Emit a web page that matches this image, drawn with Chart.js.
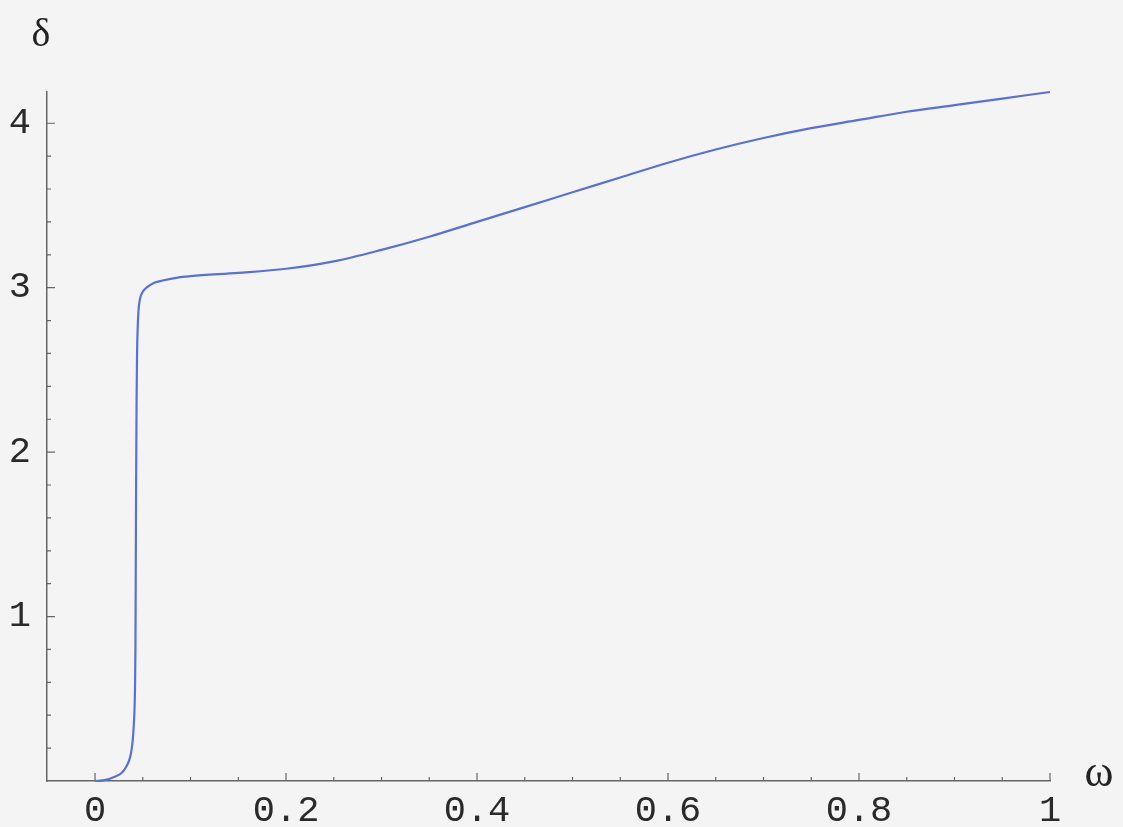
<!DOCTYPE html>
<html>
<head>
<meta charset="utf-8">
<title>delta vs omega</title>
<script src="https://cdn.jsdelivr.net/npm/chart.js@4.4.1/dist/chart.umd.min.js"></script>
<style>
  html, body { margin: 0; padding: 0; background: #f4f4f4; }
  #wrap { width: 1123px; height: 827px; position: relative; }
</style>
</head>
<body>
<div id="wrap"><canvas id="plot" width="1123" height="827"></canvas></div>
<script>
const omegaValues = [
  0, 0.01, 0.02, 0.028, 0.033, 0.036, 0.038, 0.0395, 0.0405, 0.0413,
  0.0419, 0.0423, 0.0426, 0.043, 0.0435, 0.044, 0.0447, 0.0455, 0.047, 0.05,
  0.055, 0.062, 0.072, 0.085, 0.1, 0.15, 0.2, 0.25, 0.3, 0.35,
  0.4, 0.45, 0.5, 0.55, 0.6, 0.65, 0.7, 0.75, 0.8, 0.85,
  0.9, 0.95, 1.0,
];
const deltaValues = [
  0, 0.005, 0.025, 0.05, 0.09, 0.13, 0.18, 0.25, 0.33, 0.43,
  0.58, 0.8, 1.2, 1.8, 2.3, 2.6, 2.76, 2.86, 2.93, 2.975,
  3.005, 3.03, 3.045, 3.06, 3.07, 3.09, 3.115, 3.16, 3.23, 3.31,
  3.4, 3.49, 3.58, 3.67, 3.76, 3.84, 3.91, 3.97, 4.02, 4.07,
  4.11, 4.15, 4.19,
];
const xTickValues = [0, 0.2, 0.4, 0.6, 0.8, 1];
const xTickLabels = ["0", "0.2", "0.4", "0.6", "0.8", "1"];
const yTickValues = [1, 2, 3, 4];
const yTickLabels = ["1", "2", "3", "4"];

const AXIS_COLOR = "#666";
const LINE_COLOR = "#5a70d4";
const TICK_FONT = { family: "Liberation Mono", size: 37 };

function minorValues(from, to, step) {
  const out = [];
  for (let v = from; v <= to + 1e-9; v += step) out.push(Math.round(v * 1000) / 1000);
  return out;
}

// Mathematica-style ticks pointing into the plot, plus the axis names
const inwardTicks = {
  id: "inwardTicks",
  afterDraw(chart) {
    const { ctx, scales, chartArea } = chart;
    const x = scales.x;
    const y = scales.y;
    ctx.save();
    ctx.strokeStyle = AXIS_COLOR;
    ctx.lineWidth = 1.2;
    ctx.beginPath();
    minorValues(0, 1, 0.05).forEach(v => {
      const px = x.getPixelForValue(v);
      const len = xTickValues.includes(v) ? 8 : 4;
      ctx.moveTo(px, chartArea.bottom);
      ctx.lineTo(px, chartArea.bottom - len);
    });
    minorValues(0.2, 4.0, 0.2).forEach(v => {
      const py = y.getPixelForValue(v);
      const len = yTickValues.includes(v) ? 8 : 4;
      ctx.moveTo(chartArea.left, py);
      ctx.lineTo(chartArea.left + len, py);
    });
    ctx.stroke();

    ctx.fillStyle = "#222";
    ctx.textAlign = "center";
    ctx.textBaseline = "middle";
    ctx.font = "40px 'Liberation Serif'";
    ctx.fillText("δ", 41, 35);
    ctx.font = "44px 'Liberation Serif'";
    ctx.fillText("ω", 1099, 774);
    ctx.restore();
  },
};

new Chart(document.getElementById("plot"), {
  type: "scatter",
  data: {
    datasets: [{
      data: omegaValues.map((w, i) => ({ x: w, y: deltaValues[i] })),
      showLine: true,
      borderColor: LINE_COLOR,
      borderWidth: 2.2,
      pointRadius: 0,
      cubicInterpolationMode: "monotone",
      clip: false,
    }],
  },
  options: {
    responsive: false,
    animation: false,
    layout: { padding: { left: 0, right: 73, top: 92, bottom: 0 } },
    plugins: { legend: { display: false }, tooltip: { enabled: false } },
    scales: {
      x: {
        type: "linear",
        min: -0.0503,
        max: 1,
        afterBuildTicks: scale => { scale.ticks = xTickValues.map(value => ({ value })); },
        afterFit: scale => { scale.height = 46; },
        grid: { display: false, drawTicks: false },
        border: { display: true, color: AXIS_COLOR, width: 1.5 },
        ticks: {
          color: "#2a2a2a",
          font: TICK_FONT,
          padding: 8,
          maxRotation: 0,
          callback: value => xTickLabels[xTickValues.indexOf(value)] ?? "",
        },
      },
      y: {
        type: "linear",
        min: 0,
        max: 4.19,
        afterBuildTicks: scale => { scale.ticks = yTickValues.map(value => ({ value })); },
        afterFit: scale => { scale.width = 47; },
        grid: { display: false, drawTicks: false },
        border: { display: true, color: AXIS_COLOR, width: 1.5 },
        ticks: {
          color: "#2a2a2a",
          font: TICK_FONT,
          padding: 16,
          callback: value => yTickLabels[yTickValues.indexOf(value)] ?? "",
        },
      },
    },
  },
  plugins: [inwardTicks],
});
</script>
</body>
</html>
